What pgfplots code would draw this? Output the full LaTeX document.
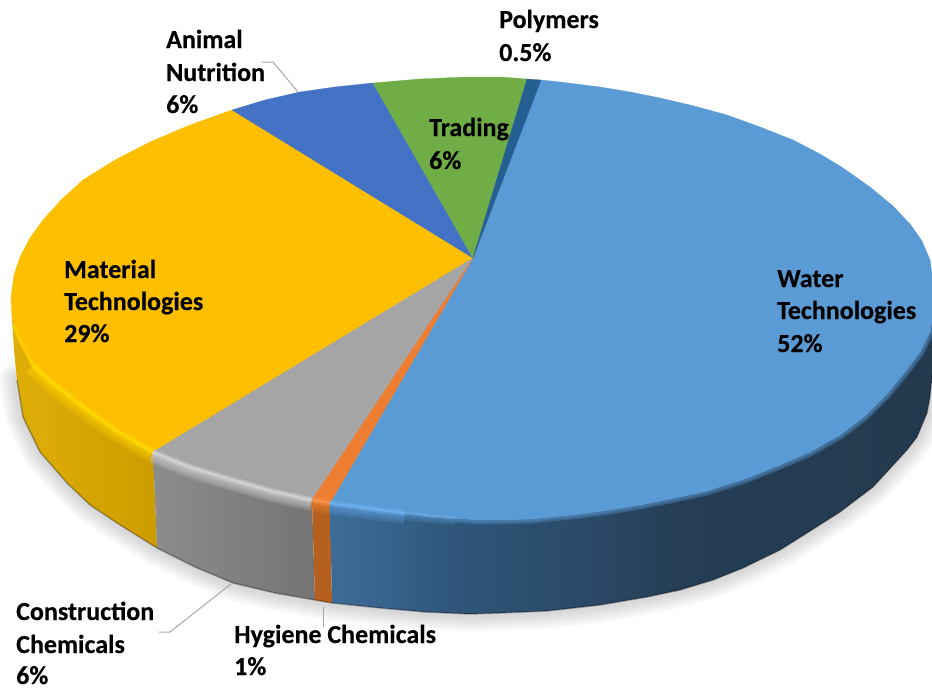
\documentclass[border=0pt]{standalone}
\usepackage{fontspec}
\setmainfont{Carlito}[BoldFeatures={FakeBold=0.35}]
\usepackage{pgfplots}
\pgfplotsset{compat=1.18}

% face colours
\definecolor{water}{HTML}{5B9BD5}
\definecolor{gold}{HTML}{FDBF00}
\definecolor{anim}{HTML}{4472C4}
\definecolor{trad}{HTML}{70AD47}
\definecolor{poly}{HTML}{255E91}
\definecolor{cons}{HTML}{A5A5A5}
\definecolor{hyg}{HTML}{ED7D31}
\definecolor{leader}{HTML}{A6A6A6}
% wall and bevel shades, named by their hex value
\newcommand{\hexcol}[1]{\definecolor{#1}{HTML}{#1}}
\hexcol{E0AE08}\hexcol{CC9C00}\hexcol{8C8C8C}\hexcol{747474}\hexcol{B5601F}
\hexcol{FFD000}\hexcol{D4D4D4}\hexcol{F08030}\hexcol{5F9FDC}
\hexcol{FFD800}\hexcol{D2D2D2}\hexcol{F4934C}\hexcol{6CB0EE}
\hexcol{3D6C99}\hexcol{2E5478}\hexcol{2A4865}\hexcol{253D55}\hexcol{243C52}\hexcol{23394E}
% water wall, left to right; the path's box runs from 25bp to 75bp
\pgfdeclarehorizontalshading{waterwall}{100bp}{
  color(0bp)=(3D6C99);
  color(25bp)=(3D6C99);
  color(36bp)=(2E5478);
  color(47bp)=(2A4865);
  color(54bp)=(253D55);
  color(64bp)=(243C52);
  color(75bp)=(23394E);
  color(100bp)=(23394E)}

% outer arcs, in picture pixels (x, y down)
\pgfplotstableread{
x y
17 380
23 417
40 452
67 483
90 505
117 523
157 548
195 567
233 583
275 593
315 600
332 603
380 608
425 612
470 614
500 613
547 611
600 605
647 597
680 590
713 580
743 568
780 550
807 533
840 512
873 487
907 450
917 437
927 413
930 397
932 375
}\bottomedge
\pgfplotstableread{
x y
153 452
117 431
83 407
50 381
33 365
}\rimgold
\pgfplotstableread{
x y
33 365
20 340
14 325
}\rimgoldend
\pgfplotstableread{
x y
312 500
272 491
233 480
190 467
153 452
}\rimcons
\pgfplotstableread{
x y
330 503
312 500
}\rimhyg
\pgfplotstableread{
x y
330 503
380 510
405 513
}\rimwaterleft
\pgfplotstableread{
x y
405 513
430 516
455 518
}\rimwatermid
\pgfplotstableread{
x y
455 518
480 520
530 519
580 514
610 510
640 505
675 498
707 491
745 479
780 465
810 452
840 435
865 416
887 394
905 372
920 352
931 330
}\rimwaterright

\newcommand{\lab}[3]{\node[anchor=base west,inner sep=0pt,font=\fontsize{26}{30}\selectfont\bfseries] at (axis cs:#1,#2) {#3};}
% rim: strokes of the highlight colour stacked over the wall, so it fades out
\newcommand{\rim}[2]{%
  \addplot[#2,opacity=.2,line width=22pt] table {#1};
  \addplot[#2,opacity=.2,line width=18pt] table {#1};
  \addplot[#2,opacity=.2,line width=14pt] table {#1};
  \addplot[#2,opacity=.2,line width=10pt] table {#1};
  \addplot[#2,opacity=.2,line width=6pt] table {#1};
}
% highlight: soft stroke with a narrow core
\newcommand{\glow}[2]{%
  \addplot[#1,opacity=.45,line width=6pt] table {#2};
  \addplot[#1,line width=2pt] table {#2};
}

\begin{document}
\begin{tikzpicture}
\begin{axis}[
  scale only axis,
  width=932pt,
  height=688pt,
  xmin=0, xmax=932,
  ymin=0, ymax=688,
  y dir=reverse,
  axis line style={draw=none},
  xtick=\empty, ytick=\empty,
  no markers,
  line join=round,
]
% soft shadow under the disc
\addplot[black,opacity=.018,line cap=round,line width=36pt] table {\bottomedge};
\addplot[black,opacity=.018,line cap=round,line width=32pt] table {\bottomedge};
\addplot[black,opacity=.018,line cap=round,line width=28pt] table {\bottomedge};
\addplot[black,opacity=.018,line cap=round,line width=24pt] table {\bottomedge};
\addplot[black,opacity=.018,line cap=round,line width=20pt] table {\bottomedge};
\addplot[black,opacity=.018,line cap=round,line width=16pt] table {\bottomedge};
\addplot[black,opacity=.018,line cap=round,line width=12pt] table {\bottomedge};
\addplot[black,opacity=.018,line cap=round,line width=8pt] table {\bottomedge};

% side walls
\addplot[draw=none,left color=E0AE08,right color=CC9C00] coordinates {
  (153,452) (117,431) (83,407) (50,381) (33,365) (20,340) (12,318)
  (14,350) (17,380) (23,417) (40,452) (67,483) (90,505) (117,523) (157,548)
} --cycle;
\addplot[draw=none,left color=8C8C8C,right color=747474] coordinates {
  (153,452) (190,467) (233,480) (272,491) (312,500)
  (315,600) (275,593) (233,583) (195,567) (157,548)
} --cycle;
\addplot[draw=none,fill=B5601F] coordinates {
  (312,500) (330,503) (332,603) (315,600)
} --cycle;
\addplot[draw=none,shade,shading=waterwall] coordinates {
  (330,503) (380,510) (430,516) (480,520) (530,519) (580,514) (640,505) (707,491)
  (780,465) (840,435) (887,394) (920,352) (935,295) (932,375) (930,397) (927,413)
  (917,437) (907,450) (873,487) (840,512) (807,533) (780,550) (743,568) (713,580)
  (680,590) (647,597) (600,605) (547,611) (500,613) (470,614) (425,612) (380,608) (332,603)
} --cycle;
\addplot[black,opacity=.3,line width=1.5pt] table {\bottomedge};

% bevel along the front edge
\rim{\rimgold}{FFD000}
\addplot[FFD000,opacity=.6,line width=4pt] table {\rimgoldend};
\rim{\rimcons}{D4D4D4}
\rim{\rimhyg}{F08030}
\addplot[water,opacity=.35,line width=9pt] table {\rimwaterright};
\addplot[water,opacity=.35,line width=5pt] table {\rimwaterright};
\addplot[5F9FDC,opacity=.2,line width=14pt] table {\rimwatermid};
\addplot[5F9FDC,opacity=.2,line width=10pt] table {\rimwatermid};
\addplot[5F9FDC,opacity=.2,line width=6pt] table {\rimwatermid};
\rim{\rimwaterleft}{5F9FDC}

% top faces
\addplot[fill=water,draw=water,line width=.3pt] coordinates {
  (473,258) (541,80) (560,82) (600,87) (630,92) (660,98) (694,106) (727,115) (760,127)
  (793,140) (820,154) (843,168) (870,187) (893,206) (910,224) (922,241) (930,260) (935,295)
  (931,330) (920,352) (905,372) (887,394) (865,416) (840,435) (810,452) (780,465) (745,479)
  (707,491) (675,498) (640,505) (610,510) (580,514) (530,519) (480,520) (455,518) (430,516) (405,513) (380,510) (330,503)
} --cycle;
\addplot[fill=gold,draw=gold,line width=.3pt] coordinates {
  (473,258) (153,452) (117,431) (83,407) (50,381) (33,365) (20,340) (12,318) (11,297) (14,275)
  (20,257) (30,238) (43,220) (62,199) (83,180) (115,160) (150,142) (190,125) (232,110)
} --cycle;
\addplot[fill=anim,draw=anim,line width=.3pt] coordinates {
  (473,258) (232,110) (265,100) (300,92) (335,87) (373,83)
} --cycle;
\addplot[fill=trad,draw=trad,line width=.3pt] coordinates {
  (473,258) (373,83) (420,79) (467,77) (500,77) (527,79)
} --cycle;
\addplot[fill=poly,draw=poly,line width=.3pt] coordinates {
  (473,258) (527,79) (541,80)
} --cycle;
\addplot[fill=cons,draw=cons,line width=.3pt] coordinates {
  (473,258) (312,500) (272,491) (233,480) (190,467) (153,452)
} --cycle;
\addplot[fill=hyg,draw=hyg,line width=.3pt] coordinates {
  (473,258) (330,503) (312,500)
} --cycle;

% highlight on the edge itself
\glow{FFD800}{\rimgold}
\addplot[FFD800,opacity=.5,line width=3pt] table {\rimgoldend};
\glow{D2D2D2}{\rimcons}
\glow{F4934C}{\rimhyg}
\glow{6CB0EE}{\rimwaterleft}
\addplot[6CB0EE,opacity=.5,line width=3pt] table {\rimwatermid};

% leader lines
\addplot[leader,line width=1pt] coordinates {(262,62) (273,62) (298,92)};
\addplot[leader,line width=1pt] coordinates {(159,632) (170,632) (231,584)};
\addplot[leader,line width=1pt] coordinates {(323,607) (323,627)};

% labels
\lab{499}{28}{Polymers}
\lab{499}{61}{0.5\%}
\lab{166}{48}{Animal}
\lab{166}{81}{Nutrition}
\lab{166}{113}{6\%}
\lab{429}{136}{Trading}
\lab{429}{169}{6\%}
\lab{777}{287}{Water}
\lab{777}{319}{Technologies}
\lab{777}{352}{52\%}
\lab{64}{278}{Material}
\lab{64}{310}{Technologies}
\lab{64}{342}{29\%}
\lab{16}{620}{Construction}
\lab{16}{653}{Chemicals}
\lab{16}{684}{6\%}
\lab{234}{643}{Hygiene Chemicals}
\lab{234}{675}{1\%}
\end{axis}
\end{tikzpicture}
\end{document}
